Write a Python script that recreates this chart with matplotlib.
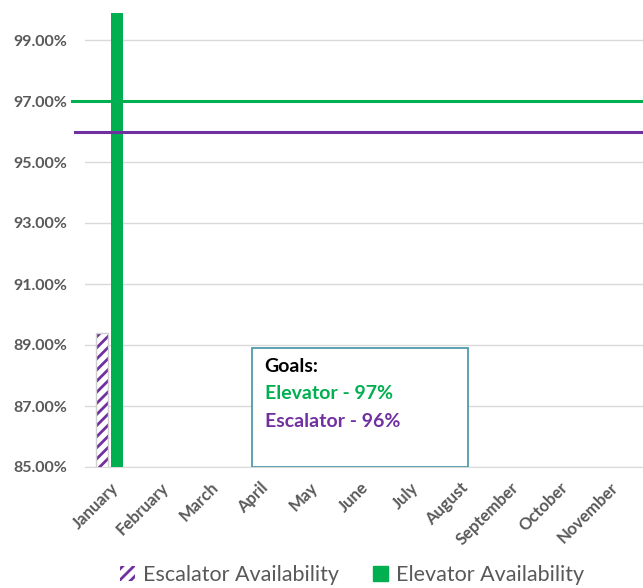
import matplotlib
matplotlib.use("Agg")
import matplotlib.pyplot as plt
from matplotlib.patches import Patch, Rectangle
from matplotlib.ticker import FuncFormatter

plt.rcParams['font.family'] = ['Lato', 'DejaVu Sans']
plt.rcParams['hatch.linewidth'] = 2.0

months = ["January", "February", "March", "April", "May", "June",
          "July", "August", "September", "October", "November"]
escalator = [89.4]   # only January reported so far
elevator = [99.9]
goal_elevator = 97.0
goal_escalator = 96.0

GREEN = "#00B050"
PURPLE = "#7030A0"
GRAY = "#595959"

fig = plt.figure(figsize=(6.43, 5.88), dpi=100)
ax = fig.add_axes([85 / 643, 121 / 588, 1 - 85 / 643, 457.5 / 588])

w = 0.24
xs = range(len(escalator))
ax.bar([x - 0.15 for x in xs], escalator, w, color="white",
       edgecolor=PURPLE, hatch="///", linewidth=0, zorder=3)
ax.bar([x - 0.15 for x in xs], escalator, w, color="none",
       edgecolor="#D0D0D0", linewidth=1.0, zorder=4)
ax.bar([x + 0.145 for x in xs], elevator, w, color=GREEN, zorder=3)

ax.set_ylim(85, 100)
ax.set_xlim(-0.5, 10.66)
ax.set_yticks([85, 87, 89, 91, 93, 95, 97, 99])
ax.yaxis.set_major_formatter(FuncFormatter(lambda v, p: f"{v:.2f}%"))
ax.grid(axis="y", color="#D9D9D9", linewidth=1.0, zorder=0)
ax.set_axisbelow(True)
for s in ["top", "right", "left"]:
    ax.spines[s].set_visible(False)
ax.spines["bottom"].set_color("#D9D9D9")

ax.set_xticks(range(len(months)))
ax.set_xticklabels(months, rotation=45, ha="right", rotation_mode="anchor",
                   fontsize=12, fontweight="bold", color=GRAY)
ax.tick_params(axis="x", length=0, pad=9)
ax.tick_params(axis="y", length=0, pad=13, labelsize=11.5, labelcolor=GRAY)
for t in ax.get_yticklabels():
    t.set_fontweight("bold")

# goal lines
ax.axhline(goal_elevator, xmin=-0.023, xmax=1, color=GREEN, linewidth=2.2,
           clip_on=False, zorder=5)
ax.axhline(goal_escalator, xmin=-0.018, xmax=1, color=PURPLE, linewidth=2.2,
           clip_on=False, zorder=5)

# goals box
box = Rectangle((0.299, 0.0), 0.387, 0.26, transform=ax.transAxes,
                facecolor="white", edgecolor="#4F9BAD", linewidth=1.3, zorder=6)
ax.add_patch(box)
ax.text(0.322, 0.22, "Goals:", transform=ax.transAxes, fontsize=14,
        fontweight="bold", color="black", va="center", zorder=7)
ax.text(0.322, 0.16, f"Elevator - {goal_elevator:.0f}%", transform=ax.transAxes,
        fontsize=14, fontweight="bold", color=GREEN, va="center", zorder=7)
ax.text(0.322, 0.10, f"Escalator - {goal_escalator:.0f}%", transform=ax.transAxes,
        fontsize=14, fontweight="bold", color=PURPLE, va="center", zorder=7)

handles = [Patch(facecolor="white", edgecolor=PURPLE, hatch="///", linewidth=0),
           Patch(facecolor=GREEN, edgecolor=GREEN)]
fig.legend(handles, ["Escalator Availability", "Elevator Availability"],
           loc="center", bbox_to_anchor=(352 / 643, 1 - 575 / 588), ncol=2,
           frameon=False, fontsize=15.5, labelcolor=GRAY, handlelength=0.7,
           handleheight=0.7, handletextpad=0.35, columnspacing=1.6)

fig.savefig("out.png", dpi=100)
